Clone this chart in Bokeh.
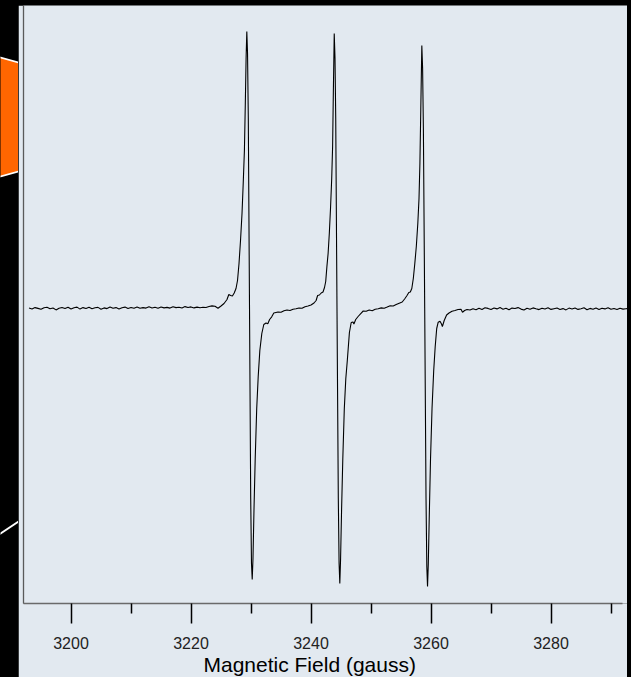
from bokeh.plotting import figure
from bokeh.models import FixedTicker, ColumnDataSource, Title, Row
from bokeh.embed import file_html
from bokeh.resources import INLINE

# ---- data (magnetic field in gauss, derivative EPR signal in arbitrary units) ----
field = [
    3193.0, 3193.5, 3194.0, 3194.5, 3195.0, 3195.5, 3196.0, 3196.5, 3197.0, 3197.5,
    3198.0, 3198.5, 3199.0, 3199.5, 3200.0, 3200.5, 3201.0, 3201.5, 3202.0, 3202.5,
    3203.0, 3203.5, 3204.0, 3204.5, 3205.0, 3205.5, 3206.0, 3206.5, 3207.0, 3207.5,
    3208.0, 3208.5, 3209.0, 3209.5, 3210.0, 3210.5, 3211.0, 3211.5, 3212.0, 3212.5,
    3213.0, 3213.5, 3214.0, 3214.5, 3215.0, 3215.5, 3216.0, 3216.5, 3217.0, 3217.5,
    3218.0, 3218.5, 3219.0, 3219.5, 3220.0, 3220.5, 3221.0, 3221.5, 3222.0, 3222.5,
    3223.0, 3223.5, 3224.0, 3224.5, 3225.0, 3225.5, 3226.0, 3226.3, 3226.6, 3226.9,
    3227.2, 3227.5, 3227.75, 3228.0, 3228.25, 3228.5, 3228.7, 3228.9, 3229.05, 3229.18,
    3229.3, 3229.42, 3229.55, 3229.75, 3229.95, 3230.08, 3230.2, 3230.33, 3230.5, 3230.7,
    3230.95, 3231.2, 3231.47, 3231.8, 3232.13, 3232.5, 3232.8, 3233.1, 3233.45, 3233.8,
    3234.15, 3234.5, 3235.0, 3235.5, 3236.0, 3236.5, 3237.0, 3237.5, 3238.0, 3238.5,
    3239.0, 3239.5, 3240.0, 3240.5, 3240.85, 3241.1, 3241.4, 3241.7, 3242.0, 3242.25,
    3242.45, 3242.65, 3242.85, 3243.05, 3243.25, 3243.45, 3243.6, 3243.72, 3243.87, 3244.0,
    3244.12, 3244.33, 3244.55, 3244.68, 3244.8, 3244.93, 3245.1, 3245.3, 3245.55, 3245.8,
    3246.05, 3246.4, 3246.7, 3247.0, 3247.15, 3247.45, 3247.85, 3248.25, 3248.7, 3249.2,
    3249.7, 3250.2, 3250.7, 3251.2, 3251.7, 3252.2, 3252.7, 3253.2, 3253.7, 3254.2,
    3254.7, 3255.2, 3255.6, 3256.0, 3256.3, 3256.55, 3256.8, 3257.05, 3257.3, 3257.55,
    3257.8, 3258.0, 3258.15, 3258.3, 3258.47, 3258.6, 3258.73, 3258.95, 3259.17, 3259.3,
    3259.42, 3259.55, 3259.72, 3259.92, 3260.17, 3260.45, 3260.7, 3260.95, 3261.2, 3261.5,
    3261.75, 3261.9, 3262.2, 3262.6, 3263.0, 3263.5, 3264.0, 3264.5, 3265.0, 3265.25,
    3265.6, 3266.0, 3266.5, 3267.0, 3267.5, 3268.0, 3268.5, 3269.0, 3269.5, 3270.0,
    3270.5, 3271.0, 3271.5, 3272.0, 3272.5, 3273.0, 3273.5, 3274.0, 3274.5, 3275.0,
    3275.5, 3276.0, 3276.5, 3277.0, 3277.5, 3278.0, 3278.5, 3279.0, 3279.5, 3280.0,
    3280.5, 3281.0, 3281.5, 3282.0, 3282.5, 3283.0, 3283.5, 3284.0, 3284.5, 3285.0,
    3285.5, 3286.0, 3286.5, 3287.0, 3287.5, 3288.0, 3288.5, 3289.0, 3289.5, 3290.0,
    3290.5, 3291.0, 3291.5, 3292.0, 3292.5, 3293.0,
]
signal = [
    0.4, -0.6, 0.9, 0.1, -0.8, 0.7, 1.3, -0.2, 0.5, -1.4,
    0.3, 1.0, -0.1, 1.2, -0.5, 0.8, 1.4, -0.6, 0.9, 0.0,
    1.3, -0.3, 0.7, 1.1, -0.7, 0.6, -0.1, 1.5, 0.2, 0.9,
    -0.5, 0.8, 1.4, 0.0, 1.0, 0.3, 1.6, 0.2, 0.9, 0.4,
    1.7, 0.5, 1.2, 0.3, 1.5, 0.6, 1.1, 0.4, 1.8, 0.9,
    1.3, 0.5, 1.9, 1.0, 1.6, 0.6, 1.4, 0.7, 1.2, 1.0,
    2.0, 2.6, 2.2, 0.3, 2.5, 5.0, 9.0, 14.0, 13.0, 12.5,
    15.5, 20.0, 28.0, 45.0, 68.0, 95.0, 125.0, 158.0, 205.0, 250.0,
    277.0, 255.0, 190.0, 0.0, -190.0, -255.0, -271.0, -250.0, -200.0, -150.0,
    -100.0, -68.0, -42.0, -25.0, -16.0, -14.5, -15.3, -11.0, -8.3, -4.5,
    -4.0, -3.5, -3.8, -2.3, -1.5, -2.0, -0.8, -0.3, 0.5, 0.2,
    1.8, 2.5, 3.5, 5.5, 8.0, 13.0, 13.5, 15.5, 16.5, 21.0,
    27.0, 42.0, 55.0, 75.0, 100.0, 130.0, 162.0, 215.0, 275.0, 250.0,
    190.0, 0.0, -190.0, -255.0, -275.0, -250.0, -200.0, -150.0, -100.0, -70.0,
    -52.0, -24.0, -14.0, -13.5, -15.5, -11.0, -8.0, -5.3, -2.5, -2.8,
    -1.5, -2.2, -0.8, -0.2, 0.6, 0.3, 1.5, 2.8, 2.5, 4.0,
    5.3, 6.5, 9.5, 13.0, 16.0, 16.5, 20.0, 30.0, 45.0, 62.0,
    85.0, 110.0, 145.0, 200.0, 263.0, 240.0, 180.0, 0.0, -190.0, -258.0,
    -278.0, -255.0, -205.0, -150.0, -100.0, -62.0, -38.0, -20.0, -13.7, -12.7,
    -15.5, -18.0, -12.0, -6.5, -4.5, -2.7, -2.0, -1.0, -0.8, -3.7,
    -2.0, -1.0, -1.5, -0.2, -1.2, 0.3, -0.9, 0.8, 0.1, -1.0,
    0.5, -0.4, 0.9, -0.7, 0.2, -1.3, 0.4, 0.0, 0.9, -0.6,
    -1.5, 0.2, -0.8, 0.6, -0.3, -1.1, 0.3, -0.5, 0.7, -0.9,
    -0.2, 0.5, -1.0, -0.1, -1.4, 0.4, -0.6, 0.6, -0.9, -0.3,
    0.7, -1.2, 0.1, -0.7, 0.5, -1.0, 0.2, -0.4, 0.8, -0.8,
    0.0, -1.1, 0.3, -0.6, -0.2, 0.1,
]
major_ticks = [3200, 3220, 3240, 3260, 3280]
minor_ticks = [3210, 3230, 3250, 3270, 3290]
x_title = "Magnetic Field (gauss)"

PANEL = "#e2e9f0"
FONT = "Liberation Sans"

# ---- left strip of the slide background (decoration only, canvas pixels) ----
deco = figure(width=18, height=677, x_range=(0, 18), y_range=(603, 0),
              output_backend="svg", toolbar_location=None,
              x_axis_location=None, y_axis_location=None,
              min_border_left=0, min_border_right=0,
              min_border_top=0, min_border_bottom=74, sizing_mode="fixed")
deco.border_fill_color = "black"
deco.background_fill_color = "black"
deco.outline_line_color = None
deco.grid.visible = False
deco.patch([-2, 20, 20, -2], [56.4, 62.6, 170.4, 176.6], fill_color="#ff6600",
           line_color=None)
deco.multi_line([[-2, 20], [-2, 20], [-2, 20]],
                [[56.4, 62.6], [176.6, 170.4], [534.3, 519.7]],
                line_color="white", line_width=1.8)

# ---- main chart ----
p = figure(width=609, height=672,
           x_range=(3192.08, 3292.75), y_range=(-295, 303),
           output_backend="svg", toolbar_location=None,
           min_border_left=5, min_border_right=0, min_border_top=0,
           min_border_bottom=74, sizing_mode="fixed")
p.margin = (5, 0, 0, 0)
p.border_fill_color = PANEL
p.background_fill_color = PANEL
p.outline_line_color = None
p.grid.visible = False

src = ColumnDataSource(dict(field=field, signal=signal))
p.line("field", "signal", source=src, line_color="black", line_width=1.1)

# x axis
xa = p.xaxis[0]
xa.ticker = FixedTicker(ticks=major_ticks, minor_ticks=minor_ticks)
xa.bounds = (3192.08, 3291.9)
xa.axis_line_color = "#6a6a6a"
xa.axis_line_width = 1.3
xa.major_tick_out = 20
xa.major_tick_in = 0
xa.minor_tick_out = 10
xa.minor_tick_in = 0
xa.major_tick_line_color = "black"
xa.major_tick_line_width = 1.5
xa.minor_tick_line_color = "black"
xa.minor_tick_line_width = 1.5
xa.major_label_text_font = FONT
xa.major_label_text_font_size = "16px"
xa.major_label_text_color = "#222222"
xa.major_label_standoff = 13

# axis title, left-aligned where the original places it
p.add_layout(Title(text=x_title, align="left", offset=180, standoff=-2,
                   text_font=FONT, text_font_size="21px",
                   text_font_style="normal", text_color="black"), "below")

# y axis: bare line only
ya = p.yaxis[0]
ya.ticker = FixedTicker(ticks=[])
ya.major_tick_out = 0
ya.major_tick_in = 0
ya.minor_tick_out = 0
ya.minor_tick_in = 0
ya.major_label_standoff = 0
ya.major_label_text_font_size = "0px"
ya.axis_line_color = "#5a5a5a"
ya.axis_line_width = 1.3

layout = Row(children=[deco, p], width=631, height=677, spacing=0,
             styles={"background-color": "black"})

open("out.html", "w").write(file_html(layout, INLINE))
